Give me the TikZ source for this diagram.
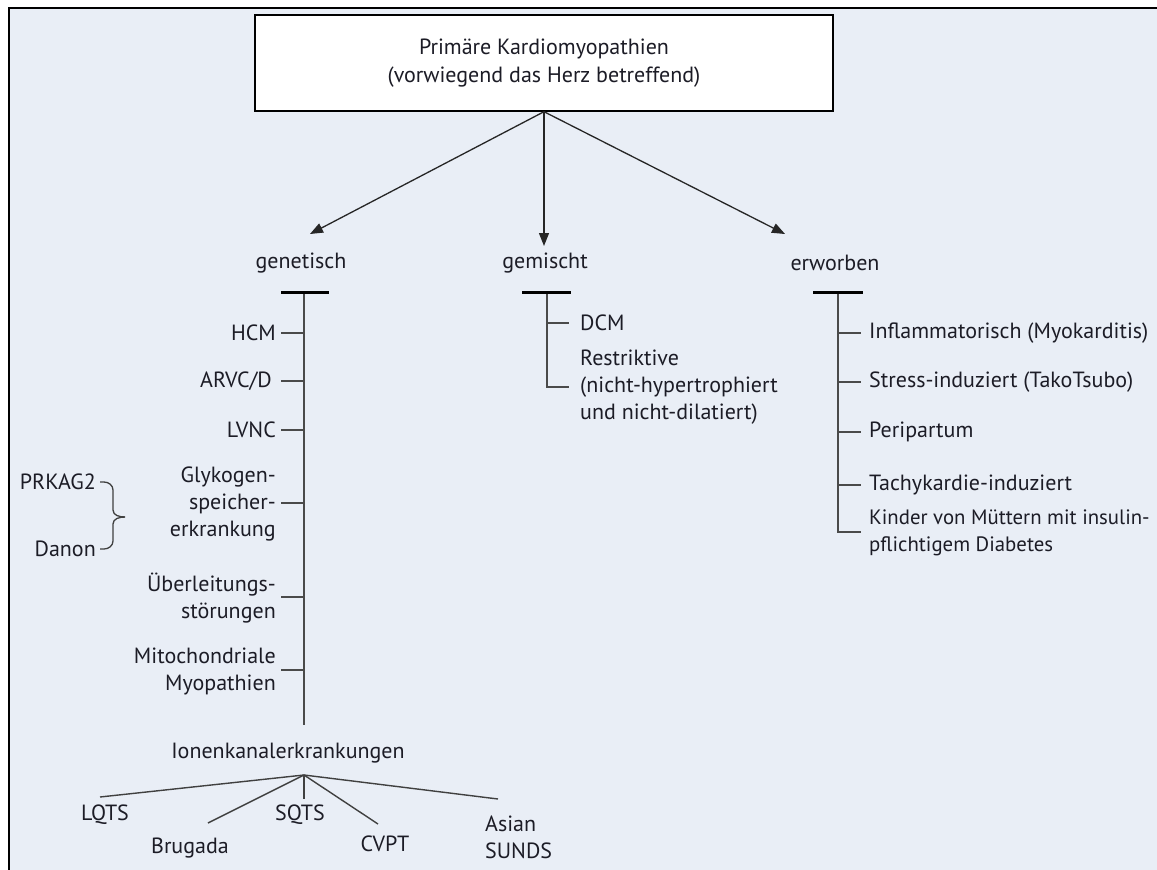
\documentclass[tikz,border=0pt]{standalone}
\usepackage{fontspec}
\setmainfont{PT Sans}
\usetikzlibrary{arrows.meta}
\definecolor{bgblue}{HTML}{E9EEF6}
\definecolor{linegrey}{HTML}{4A4A4A}
\definecolor{txt}{HTML}{1C1C26}
\begin{document}
\begin{tikzpicture}[x=1pt,y=-1pt,
  font=\fontsize{22}{27}\selectfont,
  every node/.style={text=txt, inner sep=0pt},
  lbl/.style={anchor=center},
  litem/.style={anchor=east, align=right},
  ritem/.style={anchor=west, align=left},
  arr/.style={draw=black!85, line width=1.3pt, -{Triangle[length=13pt,width=10pt]}},
  tbar/.style={draw=black, line width=3pt},
  stem/.style={draw=linegrey, line width=1.7pt},
  tick/.style={draw=linegrey, line width=1.7pt},
  twig/.style={draw=black!75, line width=1.4pt},
  brace/.style={draw=black!75, line width=1.3pt}
]
\useasboundingbox (0,0) rectangle (1157,870);
\fill[white] (0,0) rectangle (1157,870);
\fill[bgblue] (9,8) rectangle (1160,875);
\draw[black, line width=2pt] (9,875) -- (9,8) -- (1160,8);

% top box
\node[draw=black, line width=1.4pt, fill=white, minimum width=578pt, minimum height=96pt, align=center,
  font=\fontsize{22}{28}\selectfont]
  (top) at (544,63) {Primäre Kardiomyopathien\\(vorwiegend das Herz betreffend)};

% category labels
\node[lbl] (gen) at (301,263) {genetisch};
\node[lbl] (gem) at (545,263) {gemischt};
\node[lbl] (erw) at (835,263) {erworben};

\coordinate (ga) at (310,234);
\coordinate (gm) at (544,246);
\coordinate (ea) at (785,234);
\draw[arr] (top.south) -- (ga);
\draw[arr] (top.south) -- (gm);
\draw[arr] (top.south) -- (ea);

% ---------- genetisch ----------
\coordinate (gT) at (304,292);
\coordinate (gB) at (304,725);
\draw[stem] (gT) -- (gB);
\draw[tbar] (281,292) -- (329,292);

\node[litem] (hcm) at (276,333) {HCM};
\node[litem] (arvc) at (272,381) {ARVC/D};
\node[litem] (lvnc) at (276,430) {LVNC};
\node[litem] (glyk) at (276,504) {Glykogen-\\speicher-\\erkrankung};
\node[litem] (ueb) at (276,598) {Überleitungs-\\störungen};
\node[litem] (mito) at (276,671) {Mitochondriale\\Myopathien};

\foreach \y in {333,381,430,503,597,670}
  \draw[tick] (281,\y) -- (304,\y);

\node[anchor=east] (prk) at (96,482) {PRKAG2};
\node[anchor=east] (dan) at (96,549) {Danon};
\draw[brace] (prk.east) ++(4,0) -- ++(4,0) to[out=0,in=90] (113,490) -- (113,510)
  to[out=-90,in=180] (125,517);
\draw[brace] (dan.east) ++(4,0) -- ++(4,0) to[out=0,in=-90] (113,541) -- (113,524)
  to[out=90,in=180] (125,517);

\node[lbl] (ion) at (288,753) {Ionenkanalerkrankungen};
\coordinate (ib) at (304,775);

\node[lbl] (lqts) at (105,815) {LQTS};
\node[lbl] (bru) at (190,848) {Brugada};
\node[lbl] (sqts) at (300,815) {SQTS};
\node[lbl] (cvpt) at (385,844) {CVPT};
\node[anchor=west, align=left] (asian) at (485,837) {Asian\\SUNDS};

\coordinate (lq) at (100,797);
\coordinate (br) at (208,823);
\coordinate (sq) at (304,799);
\coordinate (cv) at (378,824);
\coordinate (as) at (498,799);
\draw[twig] (ib) -- (lq);
\draw[twig] (ib) -- (br);
\draw[twig] (ib) -- (sq);
\draw[twig] (ib) -- (cv);
\draw[twig] (ib) -- (as);

% ---------- gemischt ----------
\draw[stem] (547,292) -- (547,387) -- (569,387);
\draw[tbar] (522,292) -- (571,292);
\draw[tick] (547,323) -- (569,323);
\node[ritem] (dcm) at (580,323) {DCM};
\node[ritem] (restr) at (580,387) {Restriktive\\(nicht-hypertrophiert\\und nicht-dilatiert)};

% ---------- erworben ----------
\draw[stem] (838,292) -- (838,532) -- (861,532);
\draw[tbar] (813,292) -- (863,292);
\foreach \y in {333,382,432,485}
  \draw[tick] (838,\y) -- (861,\y);
\node[ritem] (infl) at (869,333) {Inflammatorisch (Myokarditis)};
\node[ritem] (stress) at (869,382) {Stress-induziert (TakoTsubo)};
\node[ritem] (peri) at (869,432) {Peripartum};
\node[ritem] (tachy) at (869,485) {Tachykardie-induziert};
\node[ritem, font=\fontsize{20.8}{27}\selectfont] (kind) at (869,533) {Kinder von Müttern mit insulin-\\pflichtigem Diabetes};
\end{tikzpicture}
\end{document}
